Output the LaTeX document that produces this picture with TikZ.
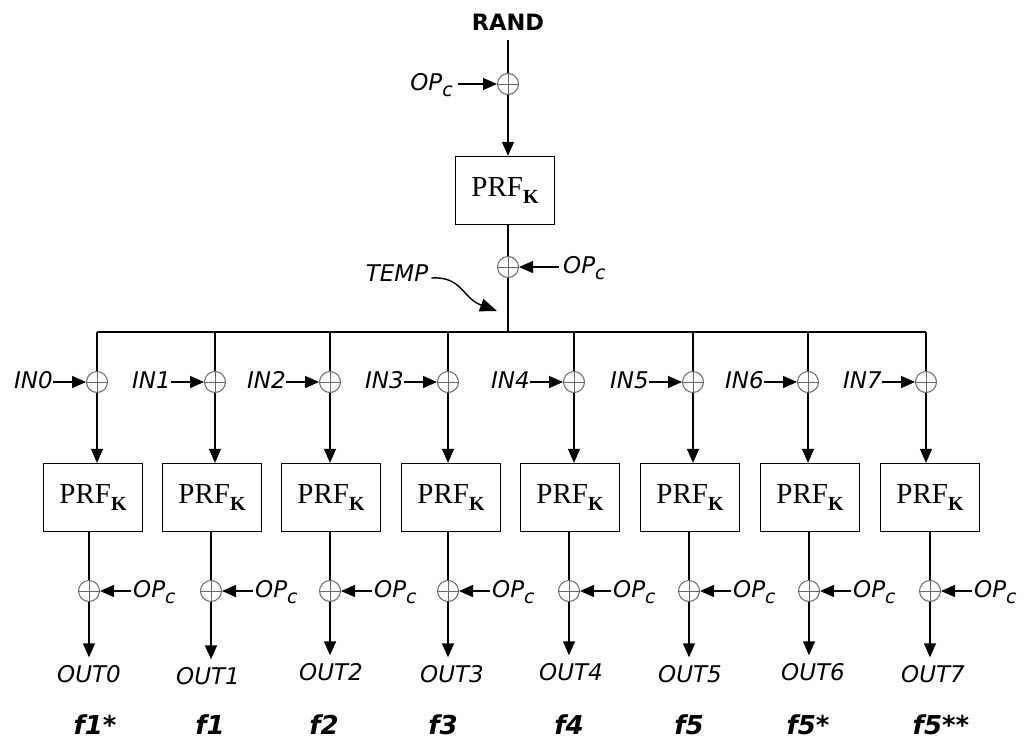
\documentclass[tikz,border=0pt]{standalone}
\usepackage{fontspec}
\newfontfamily\dsans{DejaVu Sans}
\newfontfamily\lserif{Liberation Serif}
\usetikzlibrary{arrows.meta,calc}
\newcommand{\opc}{OP\raisebox{-0.3em}{\fontsize{19}{19}\selectfont c}}
\newcommand{\prftext}{\lserif PRF\raisebox{-0.22em}{\fontsize{20}{20}\selectfont\bfseries K}}
\begin{document}
\begin{tikzpicture}[x=1pt,y=-1pt,
  ln/.style={line width=1.4pt,black},
  arr/.style={ln,-{Triangle[length=14pt,width=12pt]}},
  xor/.style={circle,draw=black!60,line width=1pt,minimum size=21pt,inner sep=0pt,
    path picture={\draw[black!60,line width=1pt]
      (path picture bounding box.north) -- (path picture bounding box.south)
      (path picture bounding box.west) -- (path picture bounding box.east);}},
  prf/.style={draw,line width=1.3pt,minimum width=99pt,minimum height=68pt,inner sep=0pt,
    font=\fontsize{29}{32}\selectfont},
  lab/.style={inner sep=0pt,font=\fontsize{23}{26}\selectfont\dsans\itshape},
  flab/.style={inner sep=0pt,font=\fontsize{26}{29}\selectfont\dsans\bfseries\itshape},
]
\useasboundingbox (0,0) rectangle (1026,742);

% top chain
\node[inner sep=0pt,font=\fontsize{22.5}{25}\selectfont\dsans\bfseries] (rand) at (508,22) {RAND};
\node[xor] (xa) at (508,84) {};
\node[lab,anchor=base east,inner xsep=5pt] (opa) at (458,90) {\opc};
\node[prf] (pa) at (505,190.5) {\prftext};
\node[xor] (xb) at (508,267) {};
\node[lab,anchor=base west,inner xsep=4pt] (opb) at (559,273) {\opc};
\coordinate (bus) at (508,332);
\node[lab] (temp) at (397,273) {TEMP};
\coordinate (temptip) at (497,311);

\draw[ln] ([yshift=-10pt]rand.south) -- (xa);
\draw[arr] (xa.west -| opa.east) -- (xa.west);
\draw[arr] (xa) -- (xa |- pa.north);
\draw[ln] (pa.south -| xb) -- (xb);
\draw[arr] (xb.east -| opb.west) -- (xb.east);
\draw[ln] (xb) -- (bus);
\draw[ln,-{Triangle[length=17pt,width=13pt]}] ([shift={(3,5)}]temp.east) .. controls (462,276) and (462,298) .. (temptip);

\foreach \i/\u/\l/\c/\ox/\oy/\fx/\ft in {
0/97/89/93/89/674/95/f1*,
1/215/211/212/208/676/210/f1,
2/330/330/331/331/672/324/f2,
3/448/448/451/452/674/443/f3,
4/574/569/570/571/672/569/f4,
5/693/689/690/690/674/689/f5,
6/808/809/810/813/672/808/f5*,
7/926/930/930/933/674/941/f5**}{
  \node[xor] (x\i) at (\u,382) {};
  \node[lab,anchor=east] (in\i) at (\u-44,380) {IN\i};
  \node[prf] (b\i) at (\c,497.5) {\prftext};
  \node[xor] (y\i) at (\l,591) {};
  \node[lab,anchor=base west,inner xsep=2pt] (op\i) at (\l+42,597) {\opc};
  \node[lab,outer ysep=8pt] (out\i) at (\ox,\oy) {OUT\i};
  \node[flab] (f\i) at (\fx,725) {\ft};
  \draw[ln] (x\i |- bus) -- (x\i);
  \draw[arr] (x\i) -- (x\i |- b\i.north);
  \draw[arr] (x\i.west -| in\i.east) -- (x\i.west);
  \draw[ln] (b\i.south -| y\i) -- (y\i);
  \draw[arr] (y\i.east -| op\i.west) -- (y\i.east);
  \draw[arr] (y\i) -- (y\i |- out\i.north);
}
\draw[ln] (x0 |- bus) -- (x7 |- bus);
\end{tikzpicture}
\end{document}
